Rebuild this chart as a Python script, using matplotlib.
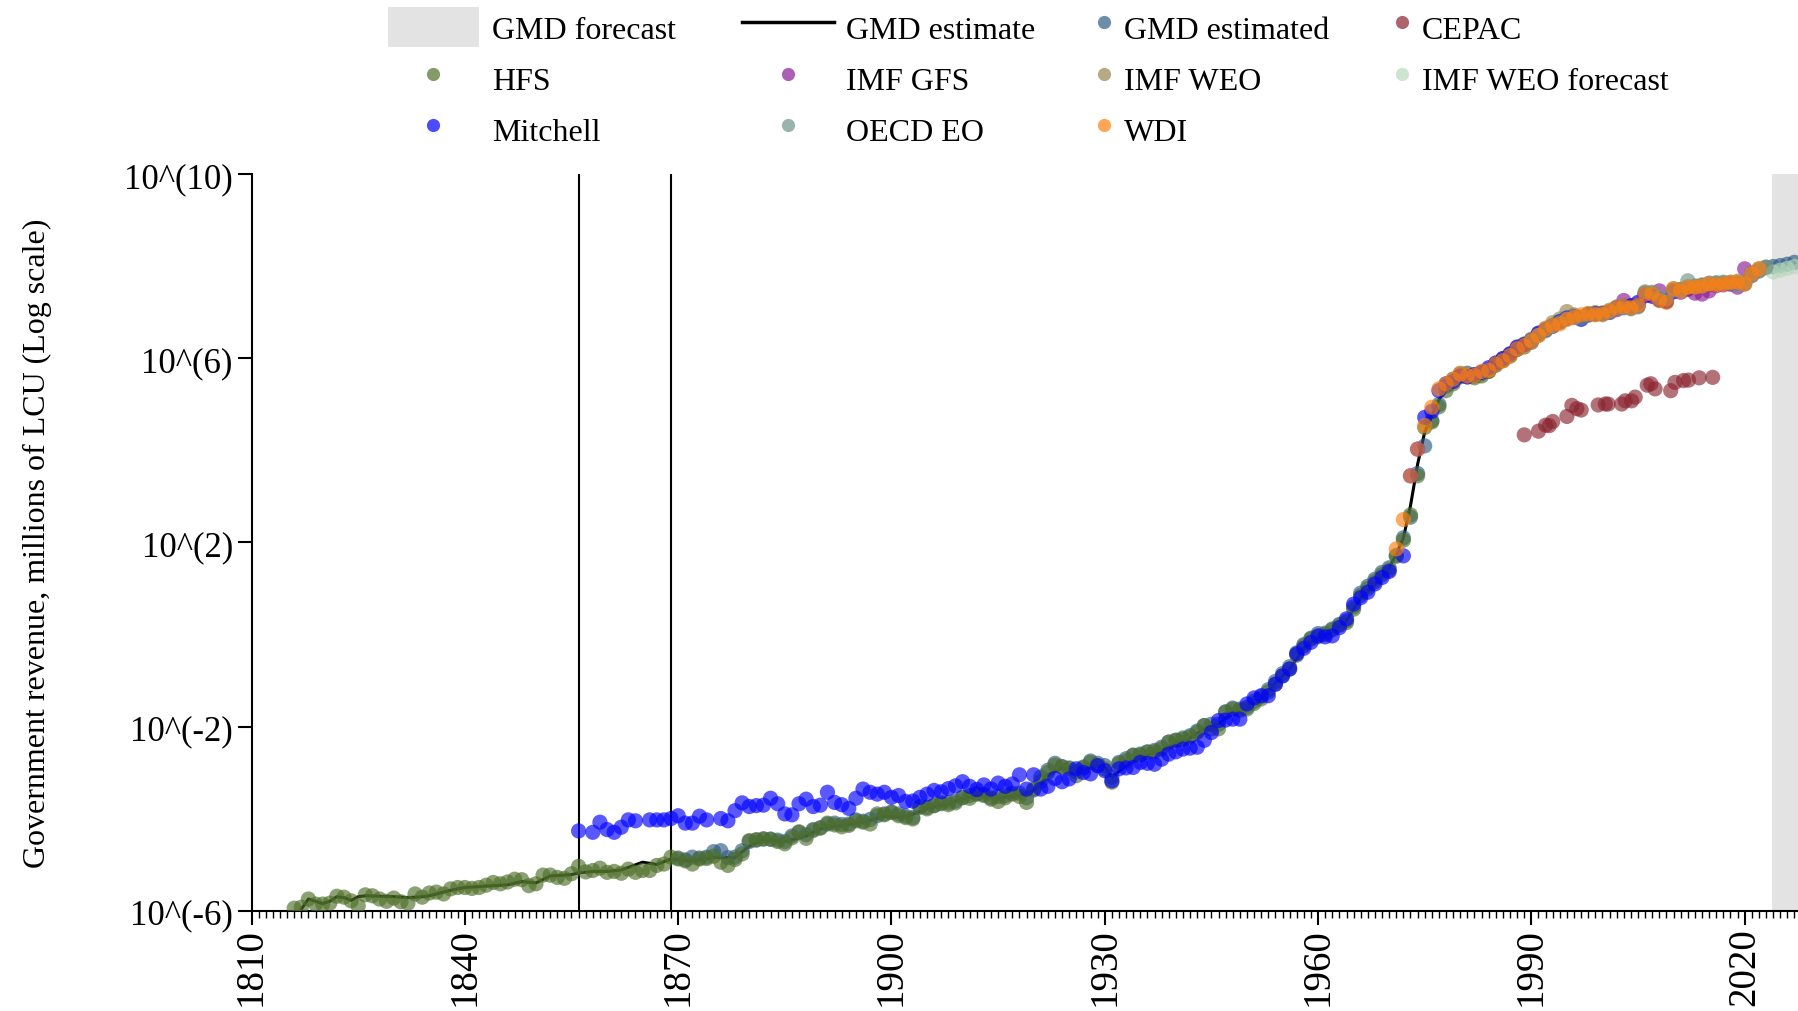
import numpy as np
import matplotlib
matplotlib.use("Agg")
import matplotlib.pyplot as plt
from matplotlib.lines import Line2D
from matplotlib.patches import Patch
from matplotlib.ticker import FixedLocator, MultipleLocator, FuncFormatter

plt.rcParams['font.family'] = ['Liberation Serif', 'DejaVu Serif']

# values are log10 of government revenue (millions of LCU)

# GMD estimate (black line)
line_years = [1817, 1818, 1819, 1820, 1821, 1822, 1823, 1824, 1825, 1826, 1830, 1832, 1834, 1835,
              1838, 1840, 1843, 1846, 1848, 1850, 1852, 1855, 1856, 1858, 1860, 1862, 1865, 1867,
              1869, 1872, 1875, 1878, 1880, 1882, 1885, 1888, 1890, 1893, 1896, 1899, 1902, 1905,
              1908, 1910, 1912, 1915, 1918, 1920, 1922, 1924, 1926, 1928, 1930, 1931, 1933, 1935,
              1938, 1940, 1942, 1944, 1946, 1948, 1950, 1952, 1954, 1956, 1958, 1960, 1962, 1964,
              1966, 1968, 1970, 1971, 1972, 1973, 1974, 1975, 1976, 1977, 1978, 1980, 1983, 1986,
              1988, 1990, 1992, 1994, 1996, 1998, 2000, 2002, 2004, 2006, 2008, 2010, 2012, 2014,
              2016, 2018, 2020, 2021, 2023, 2025, 2027]
line_log = [-5.97, -5.75, -5.8, -5.85, -5.8, -5.7, -5.72, -5.78, -5.7, -5.68, -5.7, -5.72, -5.7, -5.68,
            -5.56, -5.5, -5.47, -5.44, -5.37, -5.4, -5.25, -5.22, -5.18, -5.15, -5.15, -5.12, -4.95, -5.0,
            -4.88, -4.92, -4.85, -4.85, -4.6, -4.47, -4.5, -4.38, -4.22, -4.15, -4.08, -3.95, -3.97, -3.78,
            -3.68, -3.57, -3.5, -3.55, -3.5, -3.4, -3.05, -2.9, -3.0, -2.85, -2.88, -3.1, -2.85, -2.68,
            -2.52, -2.35, -2.25, -2.05, -1.95, -1.7, -1.6, -1.4, -1.05, -0.75, -0.3, -0.05, 0.05, 0.3,
            0.8, 1.1, 1.45, 1.75, 2.1, 2.8, 3.7, 4.4, 4.75, 5.1, 5.35, 5.6, 5.67, 5.95,
            6.2, 6.35, 6.6, 6.78, 6.9, 6.95, 6.98, 7.1, 7.13, 7.4, 7.3, 7.5, 7.52, 7.57,
            7.62, 7.65, 7.64, 7.82, 7.98, 7.95, 8.08]

# HFS, 1816-1990
hfs_years = list(range(1816, 1991))
hfs_log = [-5.95, -5.93, -5.75, -5.86,
           -5.86, -5.84, -5.69, -5.71, -5.79, -5.9, -5.66, -5.68, -5.75, -5.8,
           -5.73, -5.81, -5.84, -5.64, -5.71, -5.62, -5.6, -5.64, -5.53, -5.5,
           -5.5, -5.52, -5.5, -5.45, -5.39, -5.42, -5.38, -5.32, -5.33, -5.46,
           -5.42, -5.23, -5.23, -5.28, -5.3, -5.2, -5.04, -5.16, -5.13, -5.08,
           -5.17, -5.15, -5.19, -5.1, -5.17, -5.13, -5.13, -5.02, -4.99, -4.84,
           -4.88, -4.92, -4.99, -4.88, -4.87, -4.82, -4.95, -5.02, -4.89, -4.77,
           -4.48, -4.46, -4.45, -4.45, -4.5, -4.55, -4.42, -4.29, -4.43, -4.26,
           -4.21, -4.1, -4.14, -4.18, -4.15, -4.05, -4.08, -4.12, -3.9, -3.92,
           -3.87, -3.94, -3.98, -4.01, -3.76, -3.79, -3.72, -3.68, -3.7, -3.66,
           -3.54, -3.56, -3.47, -3.5, -3.58, -3.63, -3.55, -3.47, -3.52, -3.65,
           -3.36, -3.2, -3.0, -2.84, -2.88, -2.92, -3.07, -2.9, -2.78, -2.85,
           -2.92, -3.21, -2.81, -2.75, -2.63, -2.62, -2.56, -2.55, -2.49, -2.34,
           -2.3, -2.28, -2.23, -2.13, -1.98, -2.05, -2.05, -1.69, -1.62, -1.65,
           -1.62, -1.5, -1.4, -1.25, -1.08, -0.9, -0.75, -0.45, -0.25, -0.1,
           -0.05, 0.0, 0.1, 0.2, 0.26, 0.55, 0.85, 1.0, 1.15, 1.3,
           1.4, 1.7, 2.05, 2.6, 3.45, 4.5, 4.62, 4.95, 5.3, 5.45,
           5.6, 5.6, 5.58, 5.62, 5.72, 5.85, 5.95, 6.05, 6.2, 6.25,
           6.35]

# Mitchell, 1856-2010
mitchell_years = [1856, 1858, 1859, 1860, 1861, 1862, 1863, 1864, 1866, 1867, 1868, 1869, 1870,
                  1871, 1872, 1873, 1874, 1876, 1877, 1878, 1879] + list(range(1880, 1971)) + \
                 [1972] + list(range(1973, 2011))
mitchell_log = [-4.27, -4.30, -4.08, -4.24, -4.30, -4.19, -4.03, -4.05, -4.03, -4.03, -4.03, -4.0, -3.94,
                -4.1, -4.1, -3.95, -4.03, -4.0, -4.05, -3.83, -3.66,
                -3.74, -3.72, -3.71, -3.56, -3.68, -3.9, -3.92, -3.68, -3.58, -3.74,
                -3.71, -3.43, -3.65, -3.7, -3.78, -3.56, -3.36, -3.43, -3.47, -3.43,
                -3.54, -3.5, -3.63, -3.62, -3.54, -3.47, -3.39, -3.42, -3.35, -3.29,
                -3.2, -3.3, -3.37, -3.27, -3.36, -3.23, -3.3, -3.25, -3.05, -3.36,
                -3.05, -3.36, -3.3, -3.13, -3.2, -3.14, -2.92, -3.0, -3.03, -2.85,
                -2.96, -3.18, -2.92, -2.9, -2.89, -2.78, -2.8, -2.82, -2.71, -2.6,
                -2.55, -2.49, -2.47, -2.45, -2.3, -2.13, -1.87, -1.86, -1.84, -1.84,
                -1.51, -1.38, -1.33, -1.33, -1.08, -0.9, -0.75, -0.42, -0.3, -0.17,
                -0.03, -0.05, -0.03, 0.15, 0.34, 0.66, 0.8, 0.92, 1.1, 1.24,
                1.37,
                1.71,
                3.45, 4.03, 4.72, 4.85, 5.3, 5.45, 5.5,
                5.62, 5.6, 5.65, 5.7, 5.8, 5.9, 6.0, 6.1, 6.25, 6.3,
                6.4, 6.55, 6.62, 6.7, 6.8, 6.88, 6.9, 6.85, 6.95, 6.97,
                6.98, 7.0, 7.1, 7.12, 7.15, 7.22, 7.38, 7.35, 7.27, 7.25,
                7.45]

# GMD estimated, 1870-2027
gmd_years = list(range(1870, 2028))
gmd_log = [-4.86, -4.9, -4.84, -4.86, -4.84, -4.72, -4.70, -4.85, -4.84, -4.7,
           -4.5, -4.47, -4.44, -4.45, -4.47, -4.5, -4.38, -4.3, -4.35, -4.24,
           -4.2, -4.12, -4.1, -4.13, -4.12, -4.03, -4.06, -4.02, -3.94, -3.9,
           -3.86, -3.9, -3.95, -3.98, -3.74, -3.76, -3.72, -3.66, -3.66, -3.62,
           -3.55, -3.5, -3.46, -3.48, -3.55, -3.52, -3.5, -3.45, -3.45, -3.55,
           -3.38, -3.1, -2.95, -2.8, -2.87, -2.9, -2.98, -2.88, -2.75, -2.8,
           -2.85, -3.1, -2.78, -2.7, -2.62, -2.6, -2.55, -2.52, -2.45, -2.34,
           -2.3, -2.25, -2.2, -2.1, -1.98, -1.95, -1.95, -1.68, -1.6, -1.62,
           -1.58, -1.45, -1.35, -1.2, -1.02, -0.85, -0.7, -0.4, -0.22, -0.08,
           0.02, 0.03, 0.12, 0.22, 0.3, 0.6, 0.9, 1.05, 1.2, 1.35,
           1.45, 1.72, 2.1, 2.55, 3.5, 4.1, 4.65, 5.0, 5.4, 5.55,
           5.66, 5.68, 5.62, 5.67, 5.72, 5.88, 5.97, 6.08, 6.2, 6.3,
           6.38, 6.52, 6.62, 6.72, 6.8, 6.87, 6.92, 6.88, 6.95, 6.98,
           6.97, 7.02, 7.1, 7.12, 7.1, 7.15, 7.42, 7.4, 7.28, 7.24,
           7.48, 7.5, 7.52, 7.55, 7.58, 7.6, 7.62, 7.63, 7.62, 7.64,
           7.62, 7.8, 7.9, 7.98, 8.0, 8.02, 8.05, 8.09]

# CEPAC
cepac_years = [1989, 1991, 1992, 1992.5, 1993, 1995, 1995.7, 1996.4, 1997, 1999.4, 2000.4, 2000.8,
               2002.7, 2003.2, 2004.1, 2004.6, 2006.3, 2006.8, 2007.4, 2009.6, 2010.2, 2011.4,
               2012.1, 2013.6, 2015.5]
cepac_log = [4.34, 4.42, 4.55, 4.54, 4.63, 4.74, 4.98, 4.91, 4.88, 4.99, 5.01, 5.01,
             5.01, 5.08, 5.08, 5.16, 5.42, 5.45, 5.34, 5.30, 5.48, 5.52,
             5.53, 5.58, 5.59]

# IMF GFS, 2002-2021
gfs_years = list(range(2002, 2022))
gfs_log = [7.06, 7.26, 7.1, 7.14, 7.36, 7.38, 7.47, 7.24, 7.46, 7.44,
           7.5, 7.42, 7.40, 7.47, 7.58, 7.6, 7.62, 7.55, 7.95, 7.85]

# IMF WEO, 1980-2023
weo_years = list(range(1980, 2024))
weo_log = [5.68, 5.66, 5.64, 5.7, 5.76, 5.9, 6.0, 6.1, 6.24, 6.32,
           6.42, 6.55, 6.66, 6.78, 6.86, 7.02, 6.95, 6.9, 6.98, 7.0,
           6.99, 7.05, 7.12, 7.15, 7.13, 7.18, 7.42, 7.42, 7.3, 7.26,
           7.52, 7.5, 7.56, 7.58, 7.6, 7.63, 7.63, 7.64, 7.66, 7.68,
           7.63, 7.83, 7.93, 7.97]

# IMF WEO forecast, 2024-2027
weof_years = [2024, 2025, 2026, 2027]
weof_log = [7.88, 7.92, 7.96, 8.0]

# OECD EO, 1990-2023
oecd_years = list(range(1990, 2024))
oecd_log = [6.4, 6.5, 6.6, 6.7, 6.78, 6.86, 6.9, 6.88, 6.94, 6.96,
            6.95, 7.0, 7.08, 7.1, 7.08, 7.12, 7.45, 7.44, 7.32, 7.3,
            7.48, 7.46, 7.69, 7.56, 7.59, 7.64, 7.65, 7.66, 7.64, 7.6,
            7.66, 7.86, 7.95, 7.99]

# WDI, 1971-2022
wdi_years = list(range(1971, 2023))
wdi_log = [1.86, 2.5, 3.45, 4.03, 4.54, 4.94, 5.34, 5.45, 5.55,
           5.66, 5.62, 5.63, 5.72, 5.74, 5.88, 5.95, 6.06, 6.21, 6.28,
           6.38, 6.5, 6.64, 6.72, 6.75, 6.85, 6.89, 6.95, 6.97, 6.95,
           6.97, 7.03, 7.11, 7.13, 7.1, 7.16, 7.4, 7.4, 7.26, 7.22,
           7.51, 7.47, 7.55, 7.55, 7.57, 7.62, 7.6, 7.62, 7.65, 7.66,
           7.62, 7.84, 7.95]

forecast_start = 2023.8
break_years = [1856, 1869]
x_ticks = [1810, 1840, 1870, 1900, 1930, 1960, 1990, 2020]
y_ticks = [1e-6, 1e-2, 1e2, 1e6, 1e10]

series = [
    ("GMD estimated", gmd_years, gmd_log, "#2f5d85"),
    ("CEPAC", cepac_years, cepac_log, "#8b2530"),
    ("HFS", hfs_years, hfs_log, "#4f6f2a"),
    ("IMF GFS", gfs_years, gfs_log, "#8b1a96"),
    ("IMF WEO", weo_years, weo_log, "#96864f"),
    ("IMF WEO forecast", weof_years, weof_log, "#b7d9bc"),
    ("Mitchell", mitchell_years, mitchell_log, "#0000ff"),
    ("OECD EO", oecd_years, oecd_log, "#6f938b"),
    ("WDI", wdi_years, wdi_log, "#ff7f0e"),
]
colors = {s[0]: s[3] for s in series}

fig = plt.figure(figsize=(17.98, 10.12), dpi=100)
ax = fig.add_axes([0.1399, 0.0993, 0.8601, 0.7273])

ax.axvspan(forecast_start, 2035, color="#e3e3e3", lw=0, zorder=0)
for by in break_years:
    ax.axvline(by, color="black", lw=1.5, zorder=1)

ax.plot(line_years, 10.0 ** np.array(line_log), color="black", lw=2.2, zorder=2)

for name, yrs, vals, col in series:
    ax.scatter(yrs, 10.0 ** np.array(vals), s=120, color=col, alpha=0.65,
               edgecolors="none", zorder=3)

ax.set_yscale("log")
ax.set_ylim(1e-6, 1e10)
ax.set_xlim(1810, 2027.5)
ax.yaxis.set_major_locator(FixedLocator(y_ticks))
ax.yaxis.set_minor_locator(FixedLocator([]))
ax.yaxis.set_major_formatter(FuncFormatter(lambda v, p: "10^(%d)" % round(np.log10(v))))
ax.xaxis.set_major_locator(FixedLocator(x_ticks))
ax.xaxis.set_minor_locator(MultipleLocator(1))

for s in ["top", "right"]:
    ax.spines[s].set_visible(False)
for s in ["left", "bottom"]:
    ax.spines[s].set_linewidth(1.5)

ax.tick_params(axis="both", which="major", length=10, width=1.5, direction="out")
ax.tick_params(axis="x", which="major", pad=2, labelrotation=90, labelsize=28)
ax.tick_params(axis="y", which="major", pad=3.5, labelsize=25)
ax.tick_params(axis="x", which="minor", length=5, width=1.0, direction="out")

fig.text(0.0206, 0.463, "Government revenue, millions of LCU (Log scale)", rotation=90,
         ha="center", va="center", fontsize=23)

def dot(name):
    return Line2D([], [], ls="none", marker="o", markersize=9.5, markeredgewidth=0,
                  color=colors[name], alpha=0.7)

handles_a = [Patch(facecolor="#e3e3e3", edgecolor="none"), dot("HFS"), dot("Mitchell"),
             Line2D([], [], color="black", lw=2.5), dot("IMF GFS"), dot("OECD EO")]
labels_a = ["GMD forecast", "HFS", "Mitchell", "GMD estimate", "IMF GFS", "OECD EO"]
fig.legend(handles_a, labels_a, ncol=2, loc="upper left",
           bbox_to_anchor=(387.6 / 1798, 0.992), frameon=False, fontsize=23,
           handlelength=2.87, handleheight=1.55, handletextpad=0.4,
           columnspacing=2.06, labelspacing=0.35, borderpad=0, borderaxespad=0)

handles_b = [dot("GMD estimated"), dot("IMF WEO"), dot("WDI"), dot("CEPAC"), dot("IMF WEO forecast")]
labels_b = ["GMD estimated", "IMF WEO", "WDI", "CEPAC", "IMF WEO forecast"]
fig.legend(handles_b, labels_b, ncol=2, loc="upper left",
           bbox_to_anchor=(1094.5 / 1798, 0.992), frameon=False, fontsize=23,
           handlelength=0.6, handleheight=1.55, handletextpad=0.33,
           columnspacing=1.96, labelspacing=0.35, borderpad=0, borderaxespad=0)

fig.savefig("out.png", dpi=100)
